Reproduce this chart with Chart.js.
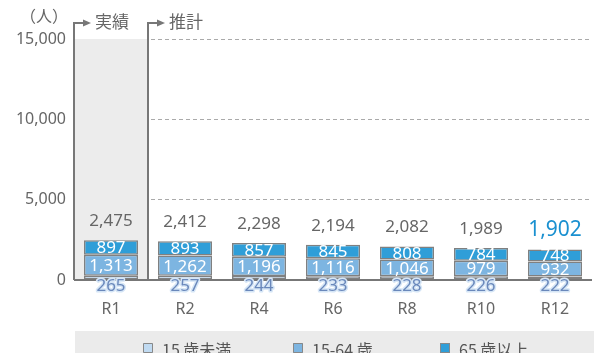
<!DOCTYPE html>
<html lang="ja">
<head>
<meta charset="utf-8">
<script src="https://cdn.jsdelivr.net/npm/chart.js@4"></script>
<style>
  html, body { margin: 0; padding: 0; background: #fff; overflow: hidden; }
  #wrap { position: relative; width: 594px; height: 353px; }
</style>
</head>
<body>
<div id="wrap"><canvas id="popChart"></canvas></div>
<script>
const years = ['R1', 'R2', 'R4', 'R6', 'R8', 'R10', 'R12'];
const under15 = [265, 257, 244, 233, 228, 226, 222];
const age15to64 = [1313, 1262, 1196, 1116, 1046, 979, 932];
const over65 = [897, 893, 857, 845, 808, 784, 748];
const totals = [2475, 2412, 2298, 2194, 2082, 1989, 1902];
const yTicks = [0, 5000, 10000, 15000];

const FONT = "'Noto Sans', 'Noto Sans CJK JP', sans-serif";
const JP_FONT = "'Noto Sans CJK JP', 'Noto Sans', sans-serif";
const fmt = v => v.toLocaleString('en-US');

// shaded "actual" column, brackets, axis line, labels and legend
const decor = {
    id: 'decor',
    beforeDatasetsDraw(chart) {
        const {ctx, chartArea, scales} = chart;
        const x = scales.x, y = scales.y;
        const split = (x.getPixelForValue(0) + x.getPixelForValue(1)) / 2;
        ctx.save();
        ctx.fillStyle = '#ececec';
        ctx.fillRect(chartArea.left, y.getPixelForValue(15000), split - chartArea.left, y.getPixelForValue(0) - y.getPixelForValue(15000));
        ctx.restore();
    },
    afterDatasetsDraw(chart) {
        const {ctx, chartArea, scales} = chart;
        const x = scales.x, y = scales.y;
        const zero = y.getPixelForValue(0);
        const split = (x.getPixelForValue(0) + x.getPixelForValue(1)) / 2;
        const topY = 23;

        ctx.save();
        ctx.strokeStyle = '#777';
        ctx.lineWidth = 2;
        // x axis line
        ctx.beginPath();
        ctx.moveTo(chartArea.left, zero);
        ctx.lineTo(chartArea.right, zero);
        ctx.stroke();

        // brackets with arrows
        [[chartArea.left, '実績'], [split, '推計']].forEach(([bx, txt]) => {
            ctx.strokeStyle = '#777';
            ctx.lineWidth = 2;
            ctx.beginPath();
            ctx.moveTo(bx, zero);
            ctx.lineTo(bx, topY);
            ctx.lineTo(bx + 10, topY);
            ctx.stroke();
            ctx.fillStyle = '#777';
            ctx.beginPath();
            ctx.moveTo(bx + 9, topY - 3.5);
            ctx.lineTo(bx + 17, topY);
            ctx.lineTo(bx + 9, topY + 3.5);
            ctx.closePath();
            ctx.fill();
            ctx.fillStyle = '#666';
            ctx.font = '17px ' + JP_FONT;
            ctx.textAlign = 'left';
            ctx.textBaseline = 'middle';
            ctx.fillText(txt, bx + 21, topY - 1);
        });

        // unit
        ctx.fillStyle = '#666';
        ctx.font = '16px ' + JP_FONT;
        ctx.textAlign = 'right';
        ctx.textBaseline = 'middle';
        ctx.fillText('（人）', 68, 16);

        // segment values
        const m0 = chart.getDatasetMeta(0).data;
        const m1 = chart.getDatasetMeta(1).data;
        const m2 = chart.getDatasetMeta(2).data;
        ctx.textAlign = 'center';
        ctx.font = '17px ' + FONT;
        years.forEach((yr, i) => {
            ctx.fillStyle = '#fff';
            ctx.fillText(fmt(over65[i]), m2[i].x, (m2[i].y + m2[i].base) / 2 + 1);
            ctx.fillText(fmt(age15to64[i]), m1[i].x, (m1[i].y + m1[i].base) / 2 + 1);

            ctx.lineJoin = 'round';
            ctx.lineWidth = 3;
            ctx.strokeStyle = '#d6e6f6';
            ctx.strokeText(fmt(under15[i]), m0[i].x, zero + 6);
            ctx.fillStyle = '#6a88bb';
            ctx.fillText(fmt(under15[i]), m0[i].x, zero + 6);

            const last = i === years.length - 1;
            ctx.fillStyle = last ? '#1a90d0' : '#666';
            ctx.font = (last ? '21px ' : '17px ') + FONT;
            ctx.fillText(fmt(totals[i]), m2[i].x, y.getPixelForValue(totals[i]) - 19);
            ctx.font = '17px ' + FONT;
        });

        // legend band
        ctx.fillStyle = '#ebebeb';
        ctx.fillRect(75, 331, chart.width - 75, 30);
        const items = chart.data.datasets;
        const boxXs = [143, 293, 440];
        ctx.font = '16px ' + JP_FONT;
        ctx.textAlign = 'left';
        items.forEach((ds, k) => {
            const bx = boxXs[k];
            ctx.fillStyle = ds.backgroundColor;
            ctx.fillRect(bx, 343, 10, 10);
            ctx.strokeStyle = '#888';
            ctx.lineWidth = 1;
            ctx.strokeRect(bx + 0.5, 343.5, 9, 9);
            ctx.fillStyle = '#555';
            ctx.fillText(ds.label, bx + 19, 350);
        });
        ctx.restore();
    }
};

const barStyle = {
    borderColor: '#808080',
    borderWidth: 1.5,
    borderSkipped: false,
    categoryPercentage: 1,
    barPercentage: 0.73
};

new Chart(document.getElementById('popChart'), {
    type: 'bar',
    data: {
        labels: years,
        datasets: [
            Object.assign({label: '15 歳未満', data: under15, backgroundColor: '#c0daf1'}, barStyle),
            Object.assign({label: '15-64 歳', data: age15to64, backgroundColor: '#7db5e1'}, barStyle),
            Object.assign({label: '65 歳以上', data: over65, backgroundColor: '#2f9ed8'}, barStyle)
        ]
    },
    plugins: [decor],
    options: {
        responsive: true,
        maintainAspectRatio: false,
        animation: false,
        layout: {padding: {top: 39, right: 2, bottom: 25, left: 0}},
        plugins: {
            legend: {display: false},
            tooltip: {enabled: false}
        },
        scales: {
            x: {
                stacked: true,
                grid: {display: false, drawTicks: false},
                border: {display: false},
                ticks: {color: '#666', font: {size: 16, family: FONT}, padding: 20},
                afterFit: s => { s.height = 48; }
            },
            y: {
                stacked: true,
                min: 0,
                max: 15000,
                afterBuildTicks: s => { s.ticks = yTicks.map(v => ({value: v})); },
                afterFit: s => { s.width = 74; },
                grid: {
                    drawTicks: false,
                    color: ctx => ctx.tick && ctx.tick.value === 0 ? 'rgba(0,0,0,0)' : '#aaa',
                    lineWidth: 1
                },
                border: {display: false, dash: [4, 3]},
                ticks: {
                    color: '#666',
                    font: {size: 16, family: FONT},
                    padding: 8,
                    callback: v => fmt(v)
                }
            }
        }
    }
});
</script>
</body>
</html>
